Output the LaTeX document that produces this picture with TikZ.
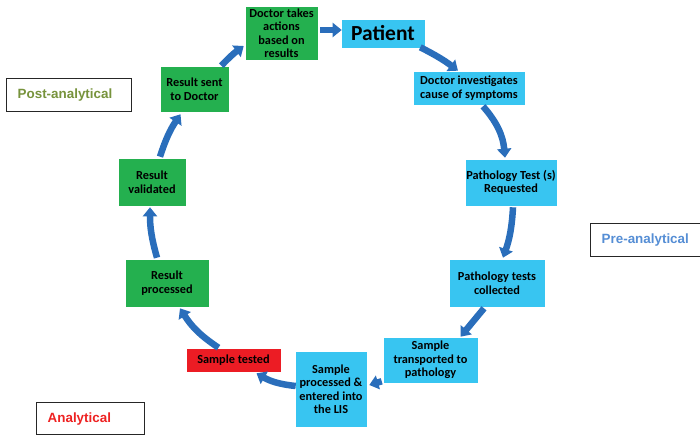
\documentclass[tikz,border=0pt]{standalone}
\usepackage{fontspec}
\setmainfont{Carlito}
\newfontfamily\arialf{Liberation Sans}
\usetikzlibrary{arrows.meta,calc}
\definecolor{cyanbox}{HTML}{38C5F1}
\definecolor{greenbox}{HTML}{24B04F}
\definecolor{redbox}{HTML}{EC1C24}
\definecolor{arrowblue}{HTML}{2A6EBB}
\definecolor{postcol}{HTML}{77933C}
\definecolor{precol}{HTML}{558ED5}
\definecolor{anacol}{HTML}{EE2222}
\begin{document}
\begin{tikzpicture}[x=1pt,y=-1pt,
  box/.style={rectangle, inner sep=0.5pt, align=center, draw=white, line width=0.6pt,
    font=\bfseries\fontsize{12.3}{13.5}\selectfont, text=black},
  cbox/.style={box, fill=cyanbox},
  gbox/.style={box, fill=greenbox},
  rbox/.style={box, fill=redbox},
  flow/.style={draw=arrowblue, line width=6.5pt, -{Triangle[width=14pt,length=9pt]}},
  phase/.style={rectangle, draw=black!85, line width=1.4pt, fill=white, anchor=north west,
    align=left, inner xsep=11pt, inner ysep=0pt,
    font=\arialf\bfseries\fontsize{13.4}{15}\selectfont}]
\useasboundingbox (0,0) rectangle (700,435);
\clip (0,0) rectangle (700,435);

% phase labels
\node[phase, text=postcol, minimum width=125pt, text width=103pt, minimum height=33pt] (post) at (6,78) {Post-analytical};
\node[phase, text=precol, minimum width=115pt, text width=93pt, minimum height=33pt] (pre) at (590,223) {Pre-analytical};
\node[phase, text=anacol, minimum width=108pt, text width=86pt, minimum height=32pt] (ana) at (36,402) {Analytical};

% process boxes
\node[gbox, minimum width=73pt, minimum height=54pt] (act) at (281.5,33) {Doctor takes\\actions\\based on\\results};
\node[cbox, minimum width=84pt, minimum height=29pt, font=\bfseries\fontsize{21.5}{24}\selectfont] (pat) at (383,33.5) {Patient};
\node[cbox, minimum width=112pt, minimum height=34pt] (inv) at (469,88) {Doctor investigates\\cause of symptoms};
\node[cbox, minimum width=92pt, minimum height=47pt] (req) at (511,182.5) {Pathology Test (s)\\Requested};
\node[cbox, minimum width=96pt, minimum height=48pt] (col) at (497,283) {Pathology tests\\collected};
\node[cbox, minimum width=95pt, minimum height=46pt] (trn) at (430.5,360) {Sample\\transported to\\pathology};
\node[cbox, minimum width=72pt, minimum height=76pt] (prc) at (331,389) {Sample\\processed \&\\entered into\\the LIS};
\node[rbox, minimum width=95pt, minimum height=24pt] (tst) at (233.5,360) {Sample tested};
\node[gbox, minimum width=84pt, minimum height=48pt] (rpr) at (167,283) {Result\\processed};
\node[gbox, minimum width=68pt, minimum height=48pt] (val) at (152,182) {Result\\validated};
\node[gbox, minimum width=69pt, minimum height=46pt] (snt) at (194.5,89) {Result sent\\to Doctor};

% connectors
\draw[flow] ($(act.east)+(2,-3)$) -- ($(pat.west)+(1,-3.5)$);
\draw[flow] ($(pat.south east)+(-5,-1)$) to[bend left=5] ($(inv.north)+(-11,0)$);
\draw[flow] ($(inv.south)+(14,1)$) to[bend left=18] ($(req.north)+(-6,-1)$);
\draw[flow] ($(req.south)+(2,1)$) to[bend left=8] ($(col.north)+(6,-1)$);
\draw[flow] ($(col.south)+(-13,1)$) -- ($(trn.north)+(30,0)$);
\draw[flow] ($(trn.south west)+(-1,-2)$) -- ($(prc.east)+(2,-4)$);
\draw[flow] ($(prc.west)+(1,-3)$) to[bend left=12] ($(tst.south)+(23,1)$);
\draw[flow] ($(tst.north)+(-15,0)$) to[bend left=12] ($(rpr.south)+(13,1)$);
\draw[flow] ($(rpr.north)+(-10,-1)$) to[bend left=8] ($(val.south)+(-2,1)$);
\draw[flow] ($(val.north)+(8,-1)$) to[bend left=8] ($(snt.south)+(-14,2)$);
\draw[flow] ($(snt.north east)+(-8,0)$) to[bend left=5] ($(act.west)+(-1,13)$);
\end{tikzpicture}
\end{document}
